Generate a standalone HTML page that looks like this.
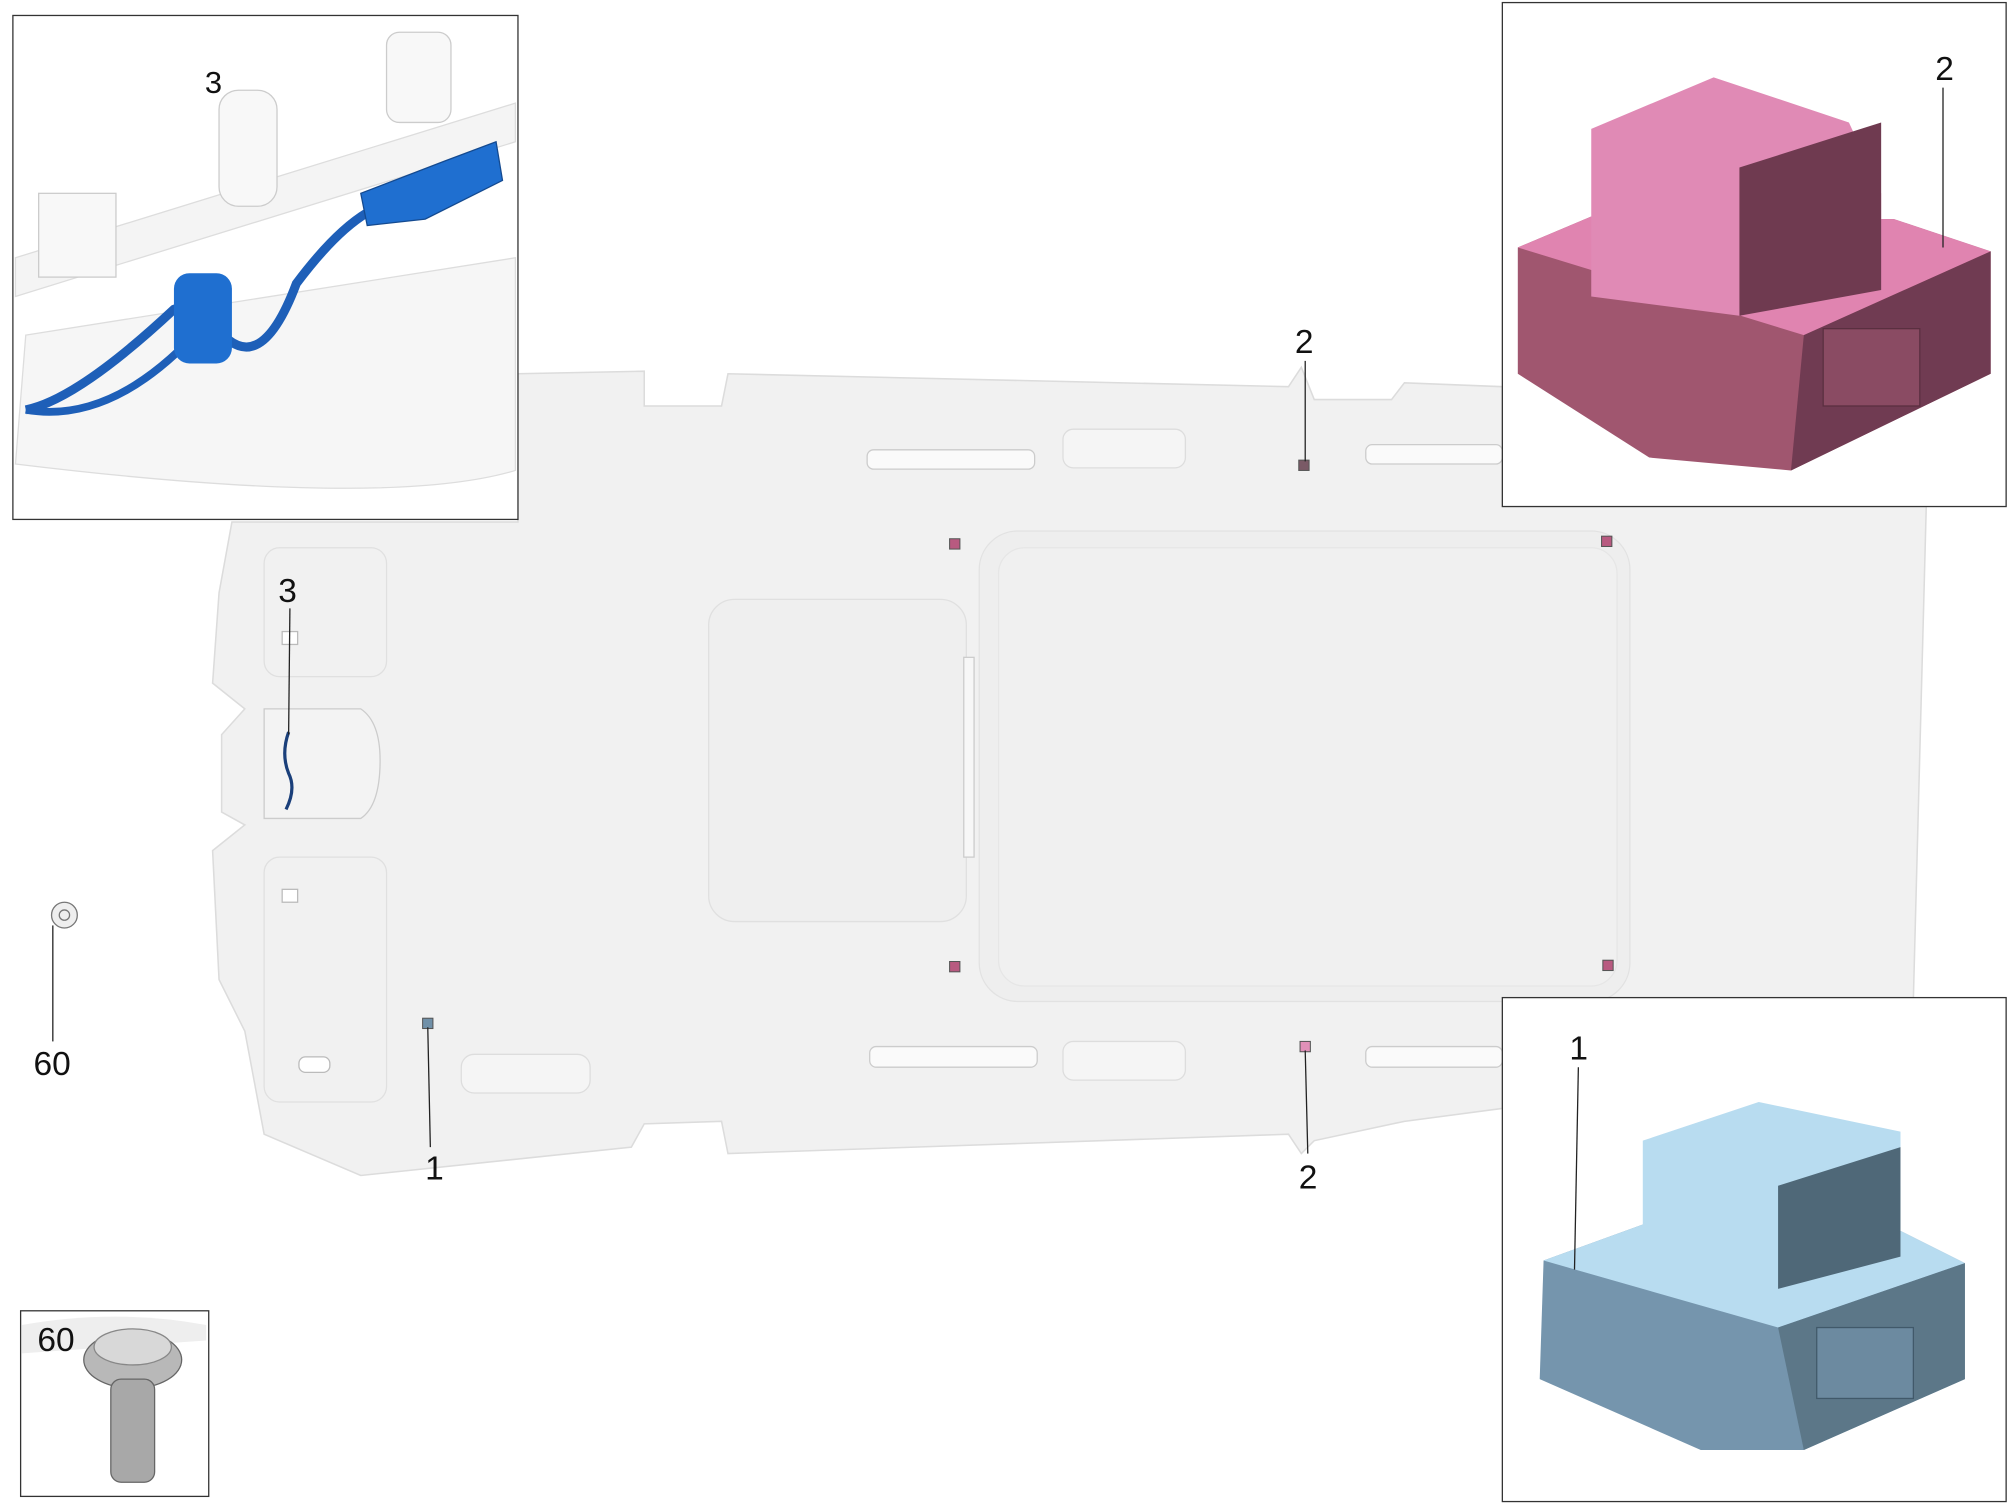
<!DOCTYPE html>
<html><head><meta charset="utf-8"><style>
html,body{margin:0;padding:0;background:#fff;}
svg{display:block;}
text{font-family:"Liberation Sans",sans-serif;fill:#111;}
</style></head><body>
<svg width="2010" height="1508" viewBox="0 0 1560 1170" preserveAspectRatio="none" xmlns="http://www.w3.org/2000/svg">
<!-- headliner -->
<path d="M180,405 L402,405 L402,290 L500,288 L500,315 L560,315 L565,290 L1000,300 L1010,285 L1020,310 L1080,310 L1090,297 L1166,300 L1166,393 L1495,393 L1485,775 L1166,775 L1166,860 L1090,870 L1020,885 L1010,895 L1000,880 L565,895 L560,870 L500,872 L490,890 L280,912 L205,880 L190,800 L170,760 L165,660 L190,640 L172,630 L172,570 L190,550 L165,530 L170,460 Z" fill="#f1f1f1" stroke="#dcdcdc" stroke-width="1.2"/>
<rect x="760" y="412" width="505" height="365" rx="30" fill="#eeeeee" stroke="#e2e2e2"/>
<rect x="775" y="425" width="480" height="340" rx="20" fill="#f0f0f0" stroke="#e6e6e6"/>
<rect x="550" y="465" width="200" height="250" rx="20" fill="#efefef" stroke="#e0e0e0"/>
<rect x="748" y="510" width="8" height="155" fill="#f7f7f7" stroke="#ccc"/>
<rect x="673" y="349" width="130" height="15" rx="5" fill="#fafafa" stroke="#ccc"/>
<rect x="1060" y="345" width="106" height="15" rx="5" fill="#fafafa" stroke="#ccc"/>
<rect x="675" y="812" width="130" height="16" rx="5" fill="#fafafa" stroke="#ccc"/>
<rect x="1060" y="812" width="106" height="16" rx="5" fill="#fafafa" stroke="#ccc"/>
<rect x="825" y="333" width="95" height="30" rx="8" fill="#f5f5f5" stroke="#ddd"/>
<rect x="825" y="808" width="95" height="30" rx="8" fill="#f5f5f5" stroke="#ddd"/>
<rect x="358" y="818" width="100" height="30" rx="10" fill="#f5f5f5" stroke="#ddd"/>
<path d="M205,550 L280,550 Q295,560 295,590 Q295,625 280,635 L205,635 Z" fill="#f3f3f3" stroke="#ccc"/>
<rect x="205" y="425" width="95" height="100" rx="12" fill="none" stroke="#e0e0e0"/>
<rect x="205" y="665" width="95" height="190" rx="12" fill="none" stroke="#e0e0e0"/>
<rect x="219" y="490" width="12" height="10" fill="#fff" stroke="#bbb"/>
<rect x="219" y="690" width="12" height="10" fill="#fff" stroke="#bbb"/>
<rect x="232" y="820" width="24" height="12" rx="5" fill="#fff" stroke="#bbb"/>
<!-- small clips -->
<g stroke="#555" stroke-width="0.8">
<rect x="737" y="418" width="8" height="8" fill="#b85a80"/>
<rect x="1243" y="416" width="8" height="8" fill="#b85a80"/>
<rect x="737" y="746" width="8" height="8" fill="#b85a80"/>
<rect x="1244" y="745" width="8" height="8" fill="#b85a80"/>
<rect x="1008" y="357" width="8" height="8" fill="#7a5a66"/>
<rect x="1009" y="808" width="8" height="8" fill="#e090b8"/>
<rect x="328" y="790" width="8" height="8" fill="#7090a8"/>
</g>
<path d="M224,568 Q218,585 224,600 Q230,612 222,628" stroke="#1a3f7a" stroke-width="2.5" fill="none"/>
<!-- leader lines -->
<g stroke="#222" stroke-width="1">
<line x1="1013" y1="280" x2="1013" y2="358"/>
<line x1="1013" y1="815" x2="1015" y2="895"/>
<line x1="332" y1="797" x2="334" y2="890"/>
<line x1="225" y1="472" x2="224" y2="570"/>
<line x1="41" y1="718" x2="41" y2="808"/>
<line x1="167" y1="78" x2="168" y2="215"/>
</g>
<circle cx="50" cy="710" r="10" fill="#eee" stroke="#777"/>
<circle cx="50" cy="710" r="4" fill="none" stroke="#777"/>
<text x="1005" y="274" font-size="26">2</text>
<text x="1008" y="922" font-size="26">2</text>
<text x="330" y="915" font-size="26">1</text>
<text x="216" y="467" font-size="26">3</text>
<text x="26" y="834" font-size="26">60</text>
<!-- inset TL -->
<rect x="10" y="12" width="392" height="391" fill="#fff" stroke="#333" stroke-width="1"/>
<path d="M12,200 L400,80 L400,110 L12,230 Z" fill="#f4f4f4" stroke="#ddd"/>
<path d="M20,260 L400,200 L400,365 Q300,395 12,360 Z" fill="#f6f6f6" stroke="#ddd"/>
<rect x="30" y="150" width="60" height="65" fill="#f8f8f8" stroke="#ccc"/>
<rect x="170" y="70" width="45" height="90" rx="15" fill="#f8f8f8" stroke="#ccc"/>
<rect x="300" y="25" width="50" height="70" rx="10" fill="#f8f8f8" stroke="#ccc"/>
<path d="M20,318 Q60,310 135,240 Q150,235 165,250 Q200,300 230,220 Q260,180 285,165" stroke="#1e5fb8" stroke-width="7" fill="none"/>
<path d="M20,318 Q90,330 160,250" stroke="#1e5fb8" stroke-width="6" fill="none"/>
<rect x="135" y="212" width="45" height="70" rx="12" fill="#1f6fd0"/>
<path d="M280,150 L345,125 L385,110 L390,140 L330,170 L285,175 Z" fill="#1f6fd0" stroke="#144a90"/>
<text x="159" y="72" font-size="24">3</text>
<!-- inset TR pink -->
<rect x="1166" y="2" width="391" height="391" fill="#fff" stroke="#333" stroke-width="1"/>
<path d="M1178,192 L1235,168 L1470,170 L1545,195 L1545,290 L1390,365 L1280,355 L1178,290 Z" fill="#a0566f"/>
<path d="M1178,192 L1235,168 L1470,170 L1545,195 L1400,260 Z" fill="#e084b0"/>
<path d="M1235,100 L1330,60 L1435,95 L1460,150 L1460,225 L1350,245 L1235,230 Z" fill="#e08ab5"/>
<path d="M1350,130 L1460,95 L1460,225 L1350,245 Z" fill="#6f3a50"/>
<path d="M1400,260 L1545,195 L1545,290 L1390,365 Z" fill="#703b52"/>
<rect x="1415" y="255" width="75" height="60" fill="#8a4b63" stroke="#5a2f40"/>
<text x="1502" y="62" font-size="26">2</text>
<line x1="1508" y1="68" x2="1508" y2="192" stroke="#222"/>
<!-- inset BR blue -->
<rect x="1166" y="774" width="391" height="391" fill="#fff" stroke="#333" stroke-width="1"/>
<path d="M1198,978 L1275,950 L1475,955 L1525,980 L1525,1070 L1400,1125 L1320,1125 L1195,1070 Z" fill="#7595ad"/>
<path d="M1198,978 L1275,950 L1475,955 L1525,980 L1380,1030 Z" fill="#b8dcf0"/>
<path d="M1275,885 L1365,855 L1475,878 L1475,975 L1380,1000 L1275,965 Z" fill="#b8dcf0"/>
<path d="M1380,920 L1475,890 L1475,975 L1380,1000 Z" fill="#4f6878"/>
<path d="M1380,1030 L1525,980 L1525,1070 L1400,1125 Z" fill="#5c7788"/>
<rect x="1410" y="1030" width="75" height="55" fill="#6c8aa0" stroke="#41596a"/>
<text x="1218" y="822" font-size="26">1</text>
<line x1="1225" y1="828" x2="1222" y2="985" stroke="#222"/>
<!-- inset BL screw -->
<rect x="16" y="1017" width="146" height="144" fill="#fff" stroke="#333" stroke-width="1"/>
<path d="M17,1028 Q90,1015 160,1028 L160,1040 L17,1050 Z" fill="#eee"/>
<ellipse cx="103" cy="1055" rx="38" ry="22" fill="#b8b8b8" stroke="#666"/>
<ellipse cx="103" cy="1045" rx="30" ry="14" fill="#d8d8d8" stroke="#888"/>
<rect x="86" y="1070" width="34" height="80" rx="8" fill="#a8a8a8" stroke="#666"/>
<text x="29" y="1048" font-size="26">60</text>
</svg>
</body></html>
